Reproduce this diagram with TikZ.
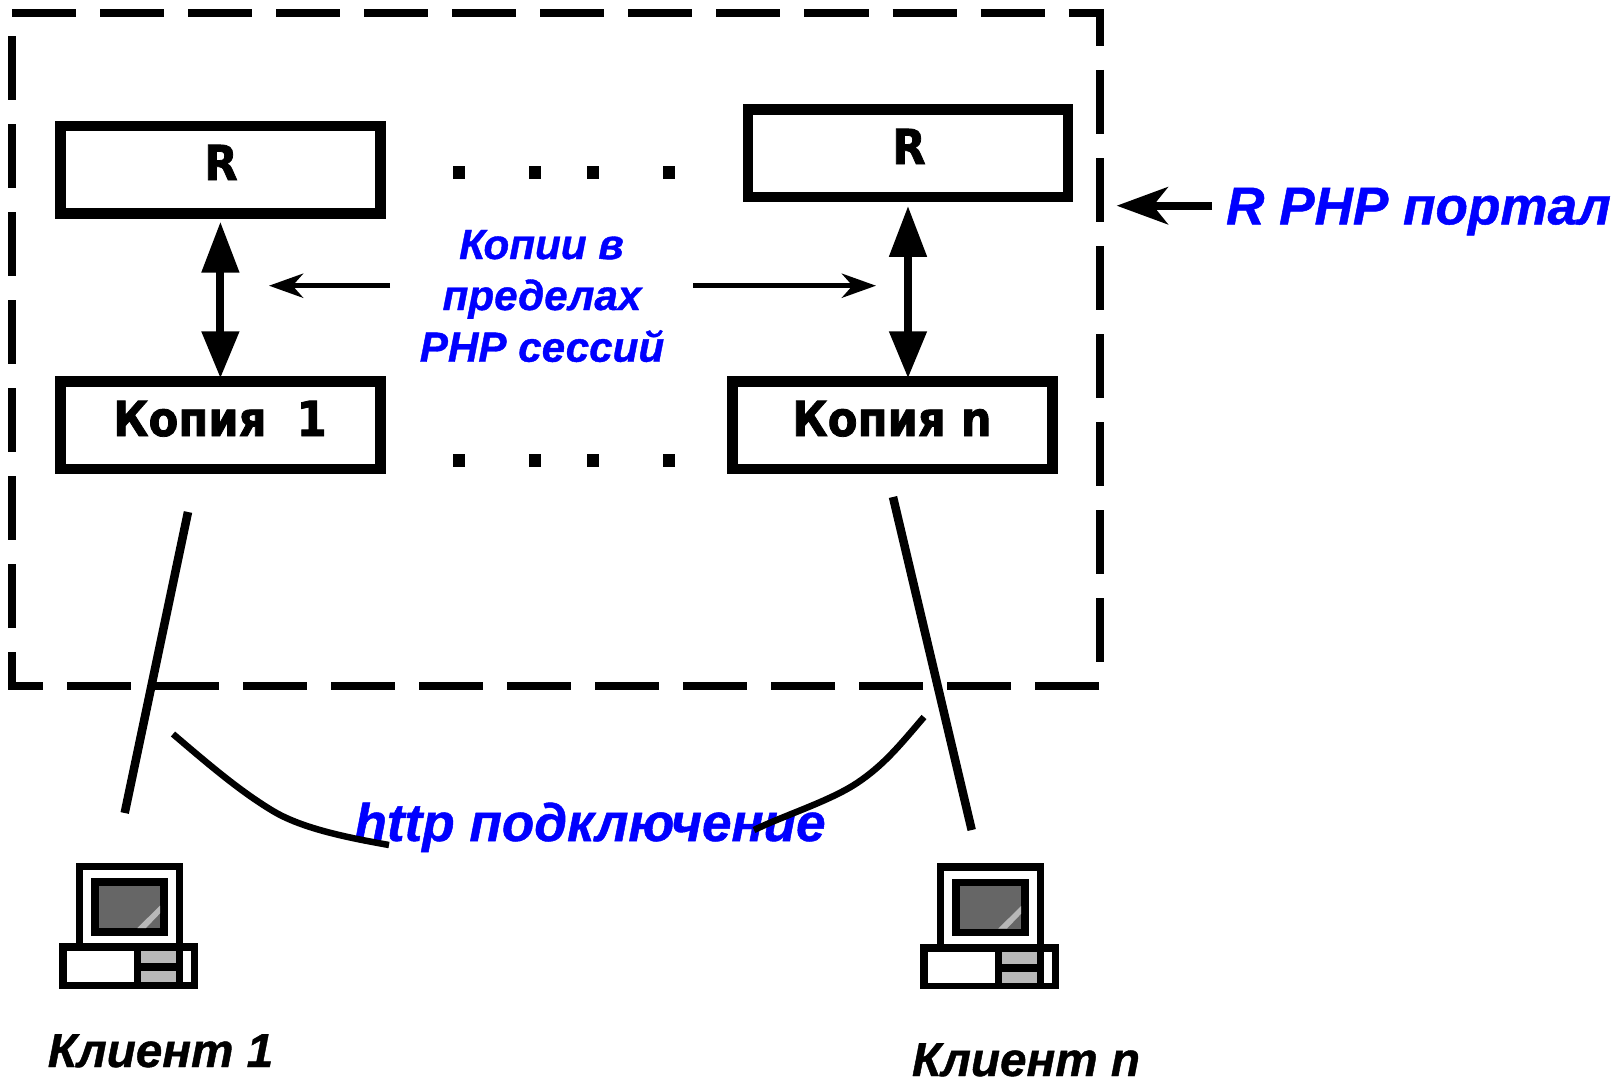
\documentclass[tikz,border=0pt]{standalone}
\usepackage{fontspec}
\setmainfont[AutoFakeBold=false]{Liberation Sans}
\newfontfamily\boxfont[FakeBold=1.6]{DejaVu Sans Condensed Bold}
\newfontfamily\labfont[FakeBold=0.9]{Liberation Sans Bold Italic}
\usetikzlibrary{arrows.meta}
\definecolor{scr}{gray}{0.40}
\definecolor{hl}{gray}{0.72}
\tikzset{
  x=0.01cm, y=-0.01cm,
  portal/.style={line width=0.08cm, dash pattern=on 0.64cm off 0.24cm, miter limit=10},
  boxnode/.style={draw, line width=0.105cm, minimum width=3.2cm, minimum height=0.875cm, inner sep=0pt},
  boxtext/.style={anchor=base, inner sep=0pt, font=\boxfont\fontsize{13.7pt}{16pt}\selectfont},
  bluetext/.style={anchor=base, inner sep=0pt, text=blue, font=\labfont\fontsize{15.1pt}{18pt}\selectfont},
  smallblue/.style={anchor=base, inner sep=0pt, text=blue, font=\labfont\fontsize{12.0pt}{15pt}\selectfont},
  clienttext/.style={anchor=base, inner sep=0pt, font=\labfont\fontsize{13.55pt}{16pt}\selectfont},
  dotnode/.style={fill=black, draw=none, minimum width=0.12cm, minimum height=0.13cm, inner sep=0pt},
  bigarrow/.style={line width=0.08cm, {Triangle[length=0.51cm,width=0.36cm]}-{Triangle[length=0.47cm,width=0.36cm]}},
  thinarrow/.style={line width=0.053cm, -{Stealth[length=0.34cm,width=0.24cm,inset=0.105cm]}},
  portalarrow/.style={line width=0.08cm, -{Stealth[length=0.51cm,width=0.37cm,inset=0.146cm]}},
  wire/.style={line width=0.085cm},
  bendline/.style={line width=0.065cm},
  comp/.pic={
    \fill[black] (16.7,0) rectangle (124,81);
    \fill[white] (24,7.7) rectangle (116.3,81);
    \fill[black] (31.7,15.7) rectangle (108.7,73);
    \fill[scr] (39.3,23) rectangle (100.7,65.3);
    \fill[hl] (100.7,43) -- (100.7,50.7) -- (86.7,65.3) -- (78,65.3) -- cycle;
    \fill[black] (0,80.7) rectangle (139,126);
    \fill[white] (8,88.3) rectangle (74.7,119.7);
    \fill[hl] (81.7,88.3) rectangle (116.3,100.3);
    \fill[hl] (81.7,108.3) rectangle (116.3,119.7);
    \fill[white] (123.3,88.3) rectangle (131.3,119.7);
  }
}
\begin{document}
\begin{tikzpicture}
\useasboundingbox (0,0) rectangle (1614,1078);
% portal border
\draw[portal] (12,13.3) -- (1100,13.3) -- (1100,685.5) -- (12,685.5) -- cycle;
% boxes
\node[boxnode] (r1) at (220.4,169.6) {};
\node[boxnode] (rn) at (908,153.3) {};
\node[boxnode] (k1) at (220.6,425.3) {};
\node[boxnode] (kn) at (892.5,425.3) {};
\node[boxtext] (tr1) at (221,180) {R};
\node[boxtext] (trn) at (909,164) {R};
\node[boxtext] (tk1) at (220,436) {Копия\ \ 1};
\node[boxtext] (tkn) at (892,436) {Копия n};
% dots
\foreach \n/\x in {a/459,b/535,c/593,d/669}{
  \node[dotnode] (u\n) at (\x,172.3) {};
  \node[dotnode] (l\n) at (\x,460.3) {};
}
% double arrows
\draw[bigarrow, shorten <=0.03cm, shorten >=-0.02cm] (r1.south) -- (r1.south |- k1.north);
\draw[bigarrow, shorten <=0.035cm, shorten >=-0.02cm] (rn.south) -- (rn.south |- kn.north);
% centre labels
\node[smallblue] (c1) at (541.5,259) {Копии в};
\node[smallblue] (c2) at (542,310) {пределах};
\node[smallblue] (c3) at (542,361.7) {PHP сессий};
\coordinate (al) at (390,285.7);
\coordinate (alt) at (269,285.7);
\coordinate (ar) at (693,285.7);
\coordinate (art) at (876,285.7);
\draw[thinarrow] (al) -- (alt);
\draw[thinarrow] (ar) -- (art);
% portal label
\node[bluetext] (pl) at (1418.5,224.3) {R PHP портал};
\coordinate (pa) at (1212,205.7);
\coordinate (pt) at (1116.7,205.7);
\draw[portalarrow] (pa) -- (pt);
% slanted wires
\coordinate (w1a) at (188,512);
\coordinate (w1b) at (124.7,813);
\coordinate (w2a) at (893,497);
\coordinate (w2b) at (971.7,830);
\draw[wire] (w1a) -- (w1b);
\draw[wire] (w2a) -- (w2b);
% http label
\node[bluetext] (h) at (590,841) {http подключение};
% curves
\coordinate (c1a) at (173,734);
\coordinate (c1m) at (273,811);
\coordinate (c1b) at (389,845);
\coordinate (c2a) at (924,717);
\coordinate (c2m) at (857,783);
\coordinate (c2b) at (754,830);
\draw[bendline] (c1a) .. controls (215,770) and (243,793) .. (c1m) .. controls (303,829) and (350,838) .. (c1b);
\draw[bendline] (c2a) .. controls (900,745) and (884,765) .. (c2m) .. controls (830,801) and (785,815) .. (c2b);
% computers
\pic at (59.3,862.7) {comp};
\pic at (920.3,863.2) {comp};
\node[clienttext] (k1l) at (160.5,1067) {Клиент 1};
\node[clienttext] (knl) at (1026,1076) {Клиент n};
\end{tikzpicture}
\end{document}
